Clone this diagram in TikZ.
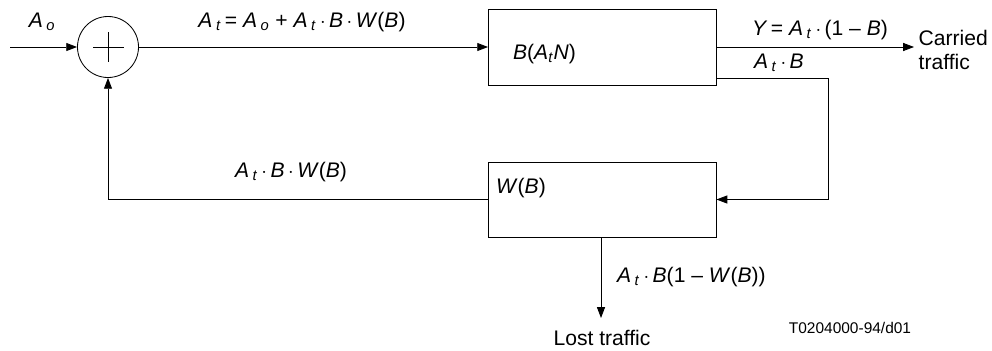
\documentclass[tikz,border=0pt]{standalone}
\usepackage{fontspec}
\setmainfont{Liberation Sans}
\usetikzlibrary{arrows.meta}
\newcommand{\iv}[1]{\textit{#1}}
\newcommand{\sub}[2]{\textit{#1}\,\textsubscript{\textit{#2}}}
\begin{document}
\begin{tikzpicture}[x=0.025cm,y=-0.025cm,
    font=\fontsize{15}{17}\selectfont,
    line width=0.6pt,
    flow/.style={-{Triangle[length=0.27cm,width=0.2cm]}},
    blk/.style={draw,minimum width=5.7cm,minimum height=1.9cm,inner sep=0pt}]
            \useasboundingbox (0,0) rectangle (992,350);
            \node[draw,circle,minimum size=1.525cm,inner sep=0pt] (S) at (108,47) {};
            \draw (93,47) -- (124,47) (108,32) -- (108,62);
            \node[blk] (BA) at (602.5,47) {};
            \node[blk,minimum height=1.875cm] (W) at (602,199.5) {};
            \coordinate (in) at (10,47);
            \coordinate (b1) at (717,78);
            \coordinate (c1) at (828,78);
            \coordinate (lost) at (601,318);
            \node[anchor=west,align=left,inner sep=3pt] (CT) at (914,50) {Carried\\traffic};
            
            \node (L1) at (42,22) {\sub{A}{o}};
            \node (L2) at (302,22) {\sub{A}{t}\,= \sub{A}{o} + \sub{A}{t}\,$\cdot$\,\iv{B}\,$\cdot$\,\iv{W}(\iv{B})};
            \node[anchor=west] (L3) at (508,54) {\iv{B}(\iv{A}\textsubscript{\iv{t}}\iv{N})};
            \node (L4) at (820,30) {\iv{Y}\,= \sub{A}{t}\,$\cdot$\,(1 – \iv{B})};
            \node[anchor=west] (L5) at (749,63) {\sub{A}{t}\,$\cdot$\,\iv{B}};
            \node (L6) at (291,172) {\sub{A}{t}\,$\cdot$\,\iv{B}\,$\cdot$\,\iv{W}(\iv{B})};
            \node[anchor=west] (L7) at (491,188) {\iv{W}(\iv{B})};
            \node[anchor=west] (L8) at (612,277) {\sub{A}{t}\,$\cdot$\,\iv{B}(1 – \iv{W}(\iv{B}))};
            \node (LT) at (602,338) {Lost traffic};
            \node[font=\fontsize{11}{13}\selectfont] (ID) at (850,328) {T0204000-94/d01};
            
            \draw[flow] (in) -- (S);
            \draw[flow] (S) -- (BA);
            \draw[flow] (BA.east |- S) -- (CT.west |- S);
            \draw[flow] (b1) -- (c1) -- (c1 |- W.east) -- (W.east);
            \draw[flow] (W.west) -| (S.south);
            \draw[flow] (W.south -| lost) -- (lost);
          \end{tikzpicture}
\end{document}
